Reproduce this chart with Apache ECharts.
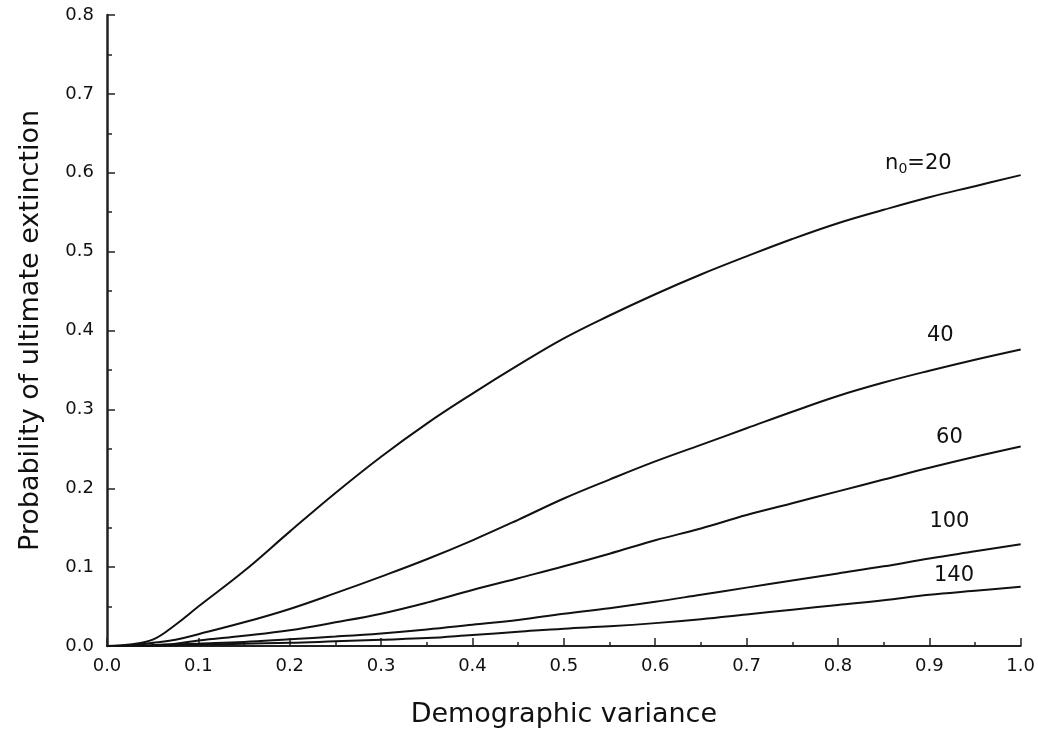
<!DOCTYPE html>
<html>
<head>
<meta charset="utf-8">
<script src="https://cdn.jsdelivr.net/npm/echarts@6/dist/echarts.min.js"></script>
<style>
  html, body { margin: 0; padding: 0; background: #fff; }
  #chart { width: 1038px; height: 734px; }
</style>
</head>
<body>
<div id="chart"></div>
<script>
// demographic variance (x) shared by all curves
var variance = [0, 0.025, 0.05, 0.075, 0.1, 0.15, 0.2, 0.25, 0.3, 0.35, 0.4, 0.45, 0.5,
                0.55, 0.6, 0.65, 0.7, 0.75, 0.8, 0.85, 0.9, 0.95, 1.0];

// probability of ultimate extinction, one array per starting size n0
var ext20  = [0, 0.002, 0.008, 0.027, 0.050, 0.095, 0.145, 0.194, 0.240, 0.282, 0.320, 0.356, 0.390,
              0.419, 0.446, 0.471, 0.494, 0.516, 0.536, 0.553, 0.569, 0.583, 0.597];
var ext40  = [0, 0.001, 0.004, 0.008, 0.015, 0.030, 0.047, 0.067, 0.088, 0.110, 0.134, 0.160, 0.187,
              0.211, 0.234, 0.255, 0.276, 0.297, 0.317, 0.334, 0.349, 0.363, 0.376];
var ext60  = [0, 0, 0.001, 0.003, 0.007, 0.013, 0.020, 0.030, 0.041, 0.055, 0.071, 0.086, 0.101,
              0.117, 0.134, 0.149, 0.166, 0.181, 0.196, 0.211, 0.226, 0.240, 0.253];
var ext100 = [0, 0, 0.001, 0.002, 0.003, 0.005, 0.0085, 0.012, 0.016, 0.021, 0.027, 0.033, 0.041,
              0.048, 0.056, 0.065, 0.074, 0.083, 0.092, 0.101, 0.111, 0.120, 0.129];
var ext140 = [0, 0, 0, 0.001, 0.0015, 0.003, 0.004, 0.006, 0.008, 0.010, 0.014, 0.018, 0.022,
              0.025, 0.029, 0.034, 0.040, 0.046, 0.052, 0.058, 0.065, 0.070, 0.075];

var curveNames = ['20', '40', '60', '100', '140'];
var curves = [ext20, ext40, ext60, ext100, ext140];

var FONT = 'DejaVu Sans';

function pairs(ys) {
    return variance.map(function(x, i) { return [x, ys[i]]; });
}

// where each curve's label sits (data units)
var labelAt = [[0.888, 0.612], [0.912, 0.393], [0.922, 0.264], [0.922, 0.158], [0.927, 0.089]];

var chart = echarts.init(document.getElementById('chart'));

var series = curves.map(function(ys, k) {
    var text = k === 0 ? '{n|n}{s|0}{n|=20}' : '{n|' + curveNames[k] + '}';
    return {
        name: 'n0=' + curveNames[k],
        type: 'line',
        data: pairs(ys),
        smooth: 0.4,
        showSymbol: false,
        lineStyle: { color: '#111', width: 2 },
        silent: true,
        markPoint: {
            symbol: 'circle',
            symbolSize: 0,
            silent: true,
            label: {
                show: true,
                position: 'inside',
                formatter: text,
                rich: {
                    n: { fontFamily: FONT, fontSize: 21, color: '#111', lineHeight: 26 },
                    s: { fontFamily: FONT, fontSize: 14, color: '#111', lineHeight: 26, padding: [12, 0, 0, 0] }
                }
            },
            data: [{ coord: labelAt[k] }]
        }
    };
});

var option = {
    animation: false,
    grid: { left: 107, right: 14, top: 15, bottom: 88 },
    xAxis: {
        type: 'value',
        min: 0, max: 1, interval: 0.1,
        name: 'Demographic variance',
        nameLocation: 'middle',
        nameGap: 55,
        nameTextStyle: { fontFamily: FONT, fontSize: 27, color: '#111' },
        axisLine: { lineStyle: { color: '#222', width: 2 } },
        axisTick: { inside: true, length: 8, lineStyle: { color: '#222', width: 1.5 } },
        minorTick: { show: true, splitNumber: 2, length: 4, lineStyle: { color: '#222', width: 1.5 } },
        splitLine: { show: false },
        axisLabel: {
            fontFamily: FONT, fontSize: 18, color: '#111', margin: 11,
            formatter: function(v) { return v.toFixed(1); }
        }
    },
    yAxis: {
        type: 'value',
        min: 0, max: 0.8, interval: 0.1,
        name: 'Probability of ultimate extinction',
        nameLocation: 'middle',
        nameGap: 63,
        nameTextStyle: { fontFamily: FONT, fontSize: 27, color: '#111' },
        axisLine: { show: true, lineStyle: { color: '#222', width: 2.5 } },
        axisTick: { show: true, inside: true, length: 8, lineStyle: { color: '#222', width: 1.5 } },
        minorTick: { show: true, splitNumber: 2, length: 5, lineStyle: { color: '#222', width: 1.5 } },
        splitLine: { show: false },
        axisLabel: {
            fontFamily: FONT, fontSize: 18, color: '#111', margin: 13,
            formatter: function(v) { return v.toFixed(1); }
        }
    },
    series: series
};

chart.setOption(option);
</script>
</body>
</html>
